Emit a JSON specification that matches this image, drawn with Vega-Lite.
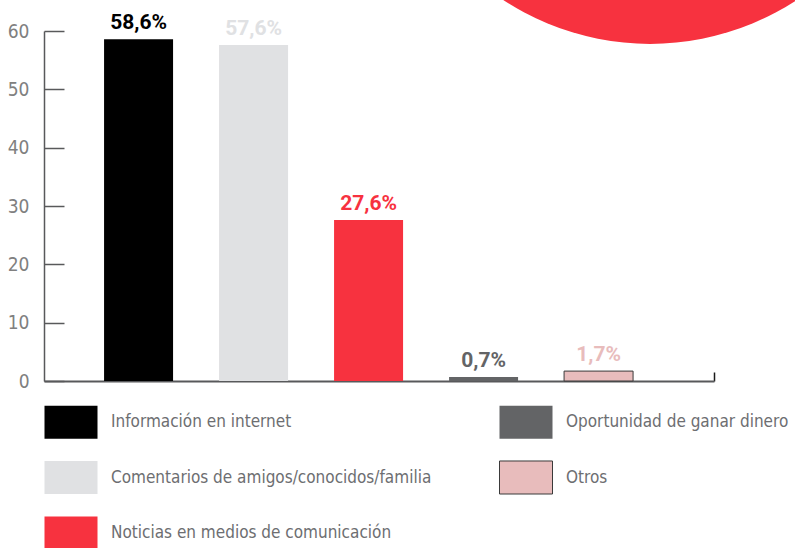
{
  "$schema": "https://vega.github.io/schema/vega-lite/v6.json",
  "autosize": {"type": "none"},
  "width": 670,
  "height": 350,
  "padding": {"left": 44, "top": 31, "right": 81, "bottom": 167},
  "background": "white",
  "config": {
    "view": {"stroke": null},
    "axis": {"grid": false, "title": null},
    "legend": {"padding": 0}
  },
  "layer": [
    {
      "data": {"values": [{"cx": 0.9045, "cy": 103.65}]},
      "mark": {"type": "point", "filled": true, "shape": "circle", "size": 286225, "color": "#f7323f", "opacity": 1},
      "encoding": {
        "x": {"field": "cx", "type": "quantitative", "scale": {"domain": [0, 1], "nice": false, "zero": false},
          "axis": {"orient": "top", "offset": -350, "domain": false, "labels": false, "values": [1], "tickSize": 9, "tickColor": "#1a1a1a", "tickWidth": 1.5, "title": null}},
        "y": {"field": "cy", "type": "quantitative", "scale": {"domain": [0, 60], "nice": false}, "axis": null}
      }
    },
    {
      "data": {"name": "bars", "values": [
        {"cat": "Información en internet", "value": 58.6, "label": "58,6%"},
        {"cat": "Comentarios de amigos/conocidos/familia", "value": 57.6, "label": "57,6%"},
        {"cat": "Noticias en medios de comunicación", "value": 27.6, "label": "27,6%"},
        {"cat": "Oportunidad de ganar dinero", "value": 0.7, "label": "0,7%"},
        {"cat": "Otros", "value": 1.7, "label": "1,7%"}
      ]},
      "encoding": {
        "x": {
          "field": "cat", "type": "nominal", "sort": null,
          "scale": {"paddingInner": 0.4, "paddingOuter": 0.613, "align": 0.426},
          "axis": {"orient": "bottom", "domain": true, "domainColor": "#58595b", "domainWidth": 2, "ticks": false, "labels": false, "title": null}
        },
        "y": {
          "field": "value", "type": "quantitative",
          "scale": {"domain": [0, 60], "nice": false},
          "axis": {
            "values": [0, 10, 20, 30, 40, 50, 60],
            "domainColor": "#58595b", "domainWidth": 1.5,
            "tickColor": "#58595b", "tickWidth": 1.5, "tickSize": -20,
            "labelPadding": 35,
            "labelFont": "DejaVu Sans Condensed", "labelFontSize": 19, "labelColor": "#808080"
          }
        }
      },
      "layer": [
        {
          "mark": {"type": "bar", "strokeWidth": 1},
          "encoding": {
            "color": {
              "field": "cat", "type": "nominal",
              "scale": {
                "domain": ["Información en internet", "Comentarios de amigos/conocidos/familia", "Noticias en medios de comunicación", "Oportunidad de ganar dinero", "Otros"],
                "range": ["#000000", "#e0e1e3", "#f7323f", "#636466", "#e8bcbc"]
              },
              "legend": {
                "title": null, "orient": "none", "legendX": 0, "legendY": 364,
                "columns": 2, "columnPadding": 65, "rowPadding": 9.5,
                "symbolType": "M-1,-0.623L1,-0.623L1,0.623L-1,0.623Z",
                "symbolSize": 2809, "symbolStrokeWidth": 1,
                "labelFont": "DejaVu Sans Condensed", "labelFontSize": 17, "labelColor": "#6d6e71",
                "labelOffset": 13, "labelLimit": 600
              }
            },
            "stroke": {
              "field": "cat", "type": "nominal",
              "scale": {
                "domain": ["Información en internet", "Comentarios de amigos/conocidos/familia", "Noticias en medios de comunicación", "Oportunidad de ganar dinero", "Otros"],
                "range": ["transparent", "transparent", "transparent", "transparent", "#3a3a3a"]
              },
              "legend": {
                "title": null, "orient": "none", "legendX": 0, "legendY": 364,
                "columns": 2, "columnPadding": 65, "rowPadding": 9.5,
                "symbolType": "M-1,-0.623L1,-0.623L1,0.623L-1,0.623Z",
                "symbolSize": 2809, "symbolStrokeWidth": 1,
                "labelFont": "DejaVu Sans Condensed", "labelFontSize": 17, "labelColor": "#6d6e71",
                "labelOffset": 13, "labelLimit": 600
              }
            }
          }
        },
        {
          "mark": {"type": "text", "font": "Roboto", "fontWeight": "bold", "fontSize": 21, "baseline": "alphabetic", "dy": -10},
          "encoding": {
            "text": {"field": "label"},
            "color": {"field": "cat", "type": "nominal", "legend": null}
          }
        }
      ]
    }
  ],
  "resolve": {"scale": {"x": "independent", "y": "independent"}}
}
